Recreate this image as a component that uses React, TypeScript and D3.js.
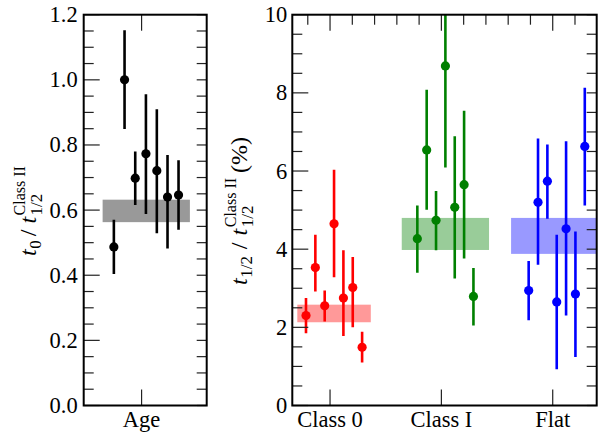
import React from "react";
import * as d3 from "d3";

// ---------- data ----------
const ageCategory = "Age";
const ageOffsets = [-0.249, -0.153, -0.057, 0.039, 0.137, 0.233, 0.332];
const ageVals = [0.487, 1.0, 0.698, 0.773, 0.721, 0.64, 0.646];
const ageLo = [0.404, 0.849, 0.616, 0.588, 0.529, 0.482, 0.54];
const ageHi = [0.57, 1.152, 0.78, 0.956, 0.91, 0.769, 0.753];
const ageBand = [0.563, 0.632];
const ageBandX = [-0.35, 0.434];

const classCategories = ["Class 0", "Class I", "Flat"];
const classOffsets = [-0.216, -0.132, -0.048, 0.036, 0.12, 0.204, 0.288];

const class0Vals = [2.3, 3.53, 2.55, 4.65, 2.75, 3.02, 1.49];
const class0Lo = [1.85, 2.92, 2.15, 3.28, 1.78, 2.0, 1.1];
const class0Hi = [2.75, 4.37, 2.94, 6.03, 3.97, 3.8, 1.89];
const class0Band = [2.13, 2.58];
const class0BandX = [-0.294, 0.366];

const classIVals = [4.27, 6.54, 4.74, 8.69, 5.07, 5.65, 2.79];
const classILo = [3.4, 5.01, 3.97, 6.09, 3.25, 3.76, 2.05];
const classIHi = [5.12, 8.08, 5.49, 11.2, 6.89, 7.54, 3.52];
const classIBand = [3.98, 4.8];
const classIBandX = [-0.356, 0.428];

const flatVals = [2.94, 5.2, 5.74, 2.65, 4.52, 2.85, 6.63];
const flatLo = [2.18, 3.6, 4.78, 0.93, 2.3, 1.24, 5.12];
const flatHi = [3.7, 6.83, 6.68, 4.37, 6.76, 4.45, 8.13];
const flatBand = [3.88, 4.8];
const flatBandX = [-0.374, 0.45];

const leftTicks = [0, 0.2, 0.4, 0.6, 0.8, 1.0, 1.2];
const rightTicks = [0, 2, 4, 6, 8, 10];

const W = 598;
const H = 436;

// approximate Times-metric advance widths (em)
const CW: Record<string, number> = {
  t: 0.278, "0": 0.5, "1": 0.5, "2": 0.5, "/": 0.278, C: 0.667, l: 0.278, a: 0.444, s: 0.389,
  " ": 0.25, I: 0.333, "(": 0.333, "%": 0.833, ")": 0.333,
};
const measure = (t: string, size: number) => t.split("").reduce((a, ch) => a + (CW[ch] ?? 0.5), 0) * size;

type Piece = { text: string; size: number; italic?: boolean; dy: number; gap?: number; stack?: boolean };

function MathLabel({ pieces, x, y }: any) {
  let cur = 0;
  let prevStart = 0;
  const placed: any[] = [];
  pieces.forEach((p: Piece) => {
    const w = measure(p.text, p.size);
    if (p.stack) {
      placed.push({ ...p, x: prevStart });
      cur = Math.max(cur, prevStart + w);
    } else {
      const start = cur + (p.gap || 0);
      placed.push({ ...p, x: start });
      prevStart = start;
      cur = start + w;
    }
  });
  const total = cur;
  return (
    <g transform={`translate(${x},${y}) rotate(-90)`}>
      {placed.map((p, i) => (
        <text key={i} x={p.x - total / 2} y={p.dy} fontSize={p.size} fontStyle={p.italic ? "italic" : "normal"} fill="#000">
          {p.text}
        </text>
      ))}
    </g>
  );
}

function Frame({ x0, x1, y0, y1 }: any) {
  return <rect x={x0} y={y0} width={x1 - x0} height={y1 - y0} fill="none" stroke="#000" strokeWidth={2} />;
}

export default function App() {
  const top = 14.7;
  const bottom = 405.5;
  const L = { x0: 83.7, x1: 206.7 };
  const R = { x0: 292.3, x1: 596.7 };

  const lx = d3.scaleLinear().domain([-0.52, 0.585]).range([L.x0, L.x1]);
  const ly = d3.scaleLinear().domain([0, 1.2]).range([bottom, top]);
  const rx = d3.scaleLinear().domain([-0.339, 2.395]).range([R.x0, R.x1]);
  const ry = d3.scaleLinear().domain([0, 10]).range([bottom, top]);

  const major = 16;
  const minor = 10;
  const tickColor = "#222";
  const tickFs = 22.5;
  const catFs = 22.5;

  const lMinor = d3.range(0, 1.2001, 0.05).filter((v) => Math.abs(v / 0.2 - Math.round(v / 0.2)) > 1e-6);
  const lAll = d3.range(0, 1.2001, 0.05);
  const rMinor = d3.range(0, 10.001, 0.5).filter((v) => Math.abs(v / 2 - Math.round(v / 2)) > 1e-6);
  const rAll = d3.range(0, 10.001, 0.5);
  const rTopMinor = d3.range(-0.2, 2.3, 0.2).filter((v) => Math.abs(v - Math.round(v)) > 1e-6);

  const series = [
    { vals: class0Vals, lo: class0Lo, hi: class0Hi, band: class0Band, bandX: class0BandX, color: "#ff0000", bandColor: "#ff9999" },
    { vals: classIVals, lo: classILo, hi: classIHi, band: classIBand, bandX: classIBandX, color: "#008000", bandColor: "#99cc99" },
    { vals: flatVals, lo: flatLo, hi: flatHi, band: flatBand, bandX: flatBandX, color: "#0000ff", bandColor: "#9999ff" },
  ];

  const leftLabel: Piece[] = [
    { text: "t", size: 24, italic: true, dy: 0 },
    { text: "0", size: 17, dy: 5, gap: 0.5 },
    { text: "/", size: 24, dy: 0, gap: 4 },
    { text: "t", size: 24, italic: true, dy: 0, gap: 6 },
    { text: "Class II", size: 16, dy: -11, gap: 1.5 },
    { text: "1/2", size: 17, dy: 6, stack: true },
  ];
  const rightLabel: Piece[] = [
    { text: "t", size: 24, italic: true, dy: 0 },
    { text: "1/2", size: 17, dy: 5, gap: 0.5 },
    { text: "/", size: 24, dy: 0, gap: 7 },
    { text: "t", size: 24, italic: true, dy: 0, gap: 7 },
    { text: "Class II", size: 16, dy: -11, gap: 1.5 },
    { text: "1/2", size: 17, dy: 6, stack: true },
    { text: "(%)", size: 24, dy: 0, gap: 5 },
  ];

  return (
    <svg width={W} height={H} style={{ position: "absolute", left: 0, top: 0 }}>
      <defs>
        <clipPath id="clipL">
          <rect x={L.x0} y={top} width={L.x1 - L.x0} height={bottom - top} />
        </clipPath>
        <clipPath id="clipR">
          <rect x={R.x0} y={top} width={R.x1 - R.x0} height={bottom - top} />
        </clipPath>
      </defs>
      <rect x={0} y={0} width={W} height={H} fill="#fff" />

      {/* ---------- left panel ---------- */}
      <g clipPath="url(#clipL)">
        <rect
          x={lx(ageBandX[0])}
          y={ly(ageBand[1])}
          width={lx(ageBandX[1]) - lx(ageBandX[0])}
          height={ly(ageBand[0]) - ly(ageBand[1])}
          fill="#999999"
        />
        {ageVals.map((v, i) => (
          <g key={i}>
            <line x1={lx(ageOffsets[i])} x2={lx(ageOffsets[i])} y1={ly(ageLo[i])} y2={ly(ageHi[i])} stroke="#000" strokeWidth={2.6} />
            <circle cx={lx(ageOffsets[i])} cy={ly(v)} r={4.6} fill="#000" />
          </g>
        ))}
      </g>
      {leftTicks.map((v) => (
        <line key={"lM" + v} x1={L.x0} x2={L.x0 + major} y1={ly(v)} y2={ly(v)} stroke={tickColor} strokeWidth={1.2} />
      ))}
      {lMinor.map((v, i) => (
        <line key={"lm" + i} x1={L.x0} x2={L.x0 + minor} y1={ly(v)} y2={ly(v)} stroke={tickColor} strokeWidth={1.2} />
      ))}
      {lAll.map((v, i) => (
        <line key={"lr" + i} x1={L.x1 - minor} x2={L.x1} y1={ly(v)} y2={ly(v)} stroke={tickColor} strokeWidth={1.2} />
      ))}
      <line x1={lx(0)} x2={lx(0)} y1={top} y2={top + major} stroke={tickColor} strokeWidth={1.2} />
      <line x1={lx(0)} x2={lx(0)} y1={bottom} y2={bottom - major} stroke={tickColor} strokeWidth={1.2} />
      {leftTicks.map((v) => (
        <text key={"lt" + v} x={L.x0 - 6} y={ly(v) + 7.5} textAnchor="end" fontSize={tickFs} fill="#000">
          {d3.format(".1f")(v)}
        </text>
      ))}
      <text x={lx(0)} y={427} textAnchor="middle" fontSize={catFs} fill="#000">
        {ageCategory}
      </text>
      <Frame x0={L.x0} x1={L.x1} y0={top} y1={bottom} />
      <MathLabel pieces={leftLabel} x={36} y={211} />

      {/* ---------- right panel ---------- */}
      <g clipPath="url(#clipR)">
        {series.map((s, k) => (
          <rect
            key={"b" + k}
            x={rx(k + s.bandX[0])}
            y={ry(s.band[1])}
            width={rx(k + s.bandX[1]) - rx(k + s.bandX[0])}
            height={ry(s.band[0]) - ry(s.band[1])}
            fill={s.bandColor}
          />
        ))}
        {series.map((s, k) =>
          s.vals.map((v, i) => (
            <g key={k + "-" + i}>
              <line
                x1={rx(k + classOffsets[i])}
                x2={rx(k + classOffsets[i])}
                y1={ry(s.lo[i])}
                y2={ry(s.hi[i])}
                stroke={s.color}
                strokeWidth={2.6}
              />
              <circle cx={rx(k + classOffsets[i])} cy={ry(v)} r={4.6} fill={s.color} />
            </g>
          ))
        )}
      </g>
      {rightTicks.map((v) => (
        <line key={"rM" + v} x1={R.x0} x2={R.x0 + major} y1={ry(v)} y2={ry(v)} stroke={tickColor} strokeWidth={1.2} />
      ))}
      {rMinor.map((v, i) => (
        <line key={"rm" + i} x1={R.x0} x2={R.x0 + minor} y1={ry(v)} y2={ry(v)} stroke={tickColor} strokeWidth={1.2} />
      ))}
      {rAll.map((v, i) => (
        <line key={"rr" + i} x1={R.x1 - minor} x2={R.x1} y1={ry(v)} y2={ry(v)} stroke={tickColor} strokeWidth={1.2} />
      ))}
      {classCategories.map((c, k) => (
        <g key={"cx" + k}>
          <line x1={rx(k)} x2={rx(k)} y1={top} y2={top + major} stroke={tickColor} strokeWidth={1.2} />
          <line x1={rx(k)} x2={rx(k)} y1={bottom} y2={bottom - major} stroke={tickColor} strokeWidth={1.2} />
          <text x={rx(k)} y={427} textAnchor="middle" fontSize={catFs} fill="#000">
            {c}
          </text>
        </g>
      ))}
      {rTopMinor.map((v, i) => (
        <line key={"rt" + i} x1={rx(v)} x2={rx(v)} y1={top} y2={top + minor} stroke={tickColor} strokeWidth={1.2} />
      ))}
      {rightTicks.map((v) => (
        <text key={"rt" + v} x={R.x0 - 5} y={ry(v) + 7.5} textAnchor="end" fontSize={tickFs} fill="#000">
          {d3.format("d")(v)}
        </text>
      ))}
      <Frame x0={R.x0} x1={R.x1} y0={top} y1={bottom} />
      <MathLabel pieces={rightLabel} x={247} y={211} />
    </svg>
  );
}
